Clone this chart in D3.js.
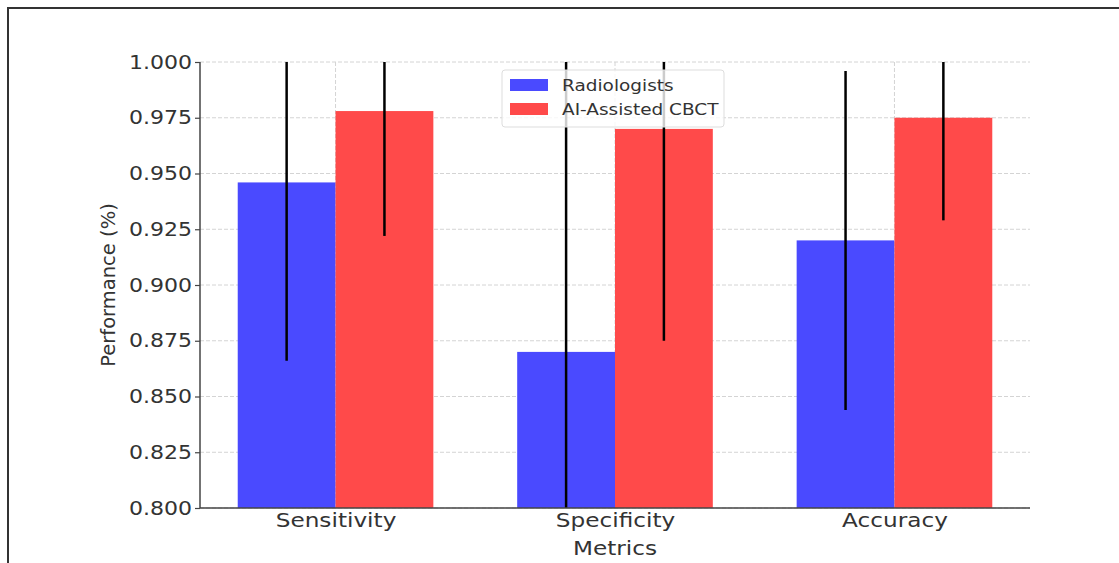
<!DOCTYPE html>
<html>
<head>
<meta charset="utf-8">
<script src="https://cdn.jsdelivr.net/npm/d3@7"></script>
<style>
  body { margin: 0; background: #fff; }
  text { font-family: "DejaVu Sans", sans-serif; fill: #333; }
</style>
</head>
<body>
<script>
// chart data
var metrics = ["Sensitivity", "Specificity", "Accuracy"];
var seriesNames = ["Radiologists", "AI-Assisted CBCT"];
var radiologists = [0.946, 0.870, 0.920];
var radiologistsErr = [0.080, 0.140, 0.076];
var aiCbct = [0.978, 0.970, 0.975];
var aiCbctErr = [0.056, 0.095, 0.046];
var yTicks = [0.800, 0.825, 0.850, 0.875, 0.900, 0.925, 0.950, 0.975, 1.000];

var colors = ["rgb(74,74,255)", "rgb(255,74,74)"];
var barWidth = 0.35;

var W = 1119, H = 563;
// plot area (window.top is read-only, so no "top" here)
var plotLeft = 200, plotRight = 1030, plotTop = 62, plotBottom = 508;
// the source picture looks a bit stretched sideways
var stretch = 1.16;

var svg = d3.select("body").append("svg")
  .attr("width", W)
  .attr("height", H);

// the outer frame (top and left edges only are visible)
svg.append("path")
  .attr("d", "M8,563 L8,8 L1119,8")
  .attr("fill", "none")
  .attr("stroke", "#333")
  .attr("stroke-width", 2);

var xScale = d3.scaleLinear()
  .domain([-0.35 - 0.135, 2.35 + 0.135])
  .range([plotLeft, plotRight]);

var yScale = d3.scaleLinear()
  .domain([0.8, 1.0])
  .range([plotBottom, plotTop]);

svg.append("clipPath").attr("id", "clip")
  .append("rect")
  .attr("x", plotLeft).attr("y", plotTop)
  .attr("width", plotRight - plotLeft).attr("height", plotBottom - plotTop);

// grid lines
var grid = svg.append("g");
grid.selectAll(".hgrid")
  .data(yTicks)
  .enter().append("line")
  .attr("x1", plotLeft).attr("x2", plotRight)
  .attr("y1", function(d) { return yScale(d); })
  .attr("y2", function(d) { return yScale(d); })
  .attr("stroke", "#d4d4d4")
  .attr("stroke-width", 1)
  .attr("stroke-dasharray", "4,2");

grid.selectAll(".vgrid")
  .data(metrics)
  .enter().append("line")
  .attr("x1", function(d, i) { return xScale(i); })
  .attr("x2", function(d, i) { return xScale(i); })
  .attr("y1", plotTop).attr("y2", plotBottom)
  .attr("stroke", "#d4d4d4")
  .attr("stroke-width", 1)
  .attr("stroke-dasharray", "4,2");

var series = [
  {vals: radiologists, errs: radiologistsErr, offset: -barWidth / 2},
  {vals: aiCbct, errs: aiCbctErr, offset: barWidth / 2}
];

var bars = svg.append("g").attr("clip-path", "url(#clip)");

series.forEach(function(s, k) {
  bars.selectAll(".bar" + k)
    .data(s.vals)
    .enter().append("rect")
    .attr("x", function(d, i) { return xScale(i + s.offset - barWidth / 2); })
    .attr("width", xScale(barWidth) - xScale(0))
    .attr("y", function(d) { return yScale(d); })
    .attr("height", function(d) { return plotBottom - yScale(d); })
    .attr("fill", colors[k]);
});

series.forEach(function(s, k) {
  bars.selectAll(".err" + k)
    .data(s.vals)
    .enter().append("line")
    .attr("x1", function(d, i) { return xScale(i + s.offset); })
    .attr("x2", function(d, i) { return xScale(i + s.offset); })
    .attr("y1", function(d, i) { return yScale(d + s.errs[i]); })
    .attr("y2", function(d, i) { return yScale(d - s.errs[i]); })
    .attr("stroke", "#000")
    .attr("stroke-width", 2.5);
});

// axes
var yAxis = d3.axisLeft(yScale)
  .tickValues(yTicks)
  .tickFormat(d3.format(".3f"))
  .tickSize(5)
  .tickPadding(6);

var gy = svg.append("g")
  .attr("transform", "translate(" + plotLeft + ",0)")
  .call(yAxis);
gy.select(".domain").attr("stroke", "#444").attr("stroke-width", 1.5)
  .attr("d", "M0," + plotBottom + "V" + plotTop);
gy.selectAll(".tick line").attr("stroke", "#444").attr("stroke-width", 1.2);
gy.selectAll(".tick text")
  .style("font-size", "19px")
  .attr("fill", "#333")
  .attr("x", -8 / stretch)
  .attr("transform", "scale(" + stretch + ",1)");

var xAxis = d3.axisBottom(xScale)
  .tickValues([0, 1, 2])
  .tickFormat(function(d) { return metrics[d]; })
  .tickSize(0)
  .tickPadding(6);

var gx = svg.append("g")
  .attr("transform", "translate(0," + plotBottom + ")")
  .call(xAxis);
gx.select(".domain").attr("stroke", "#444").attr("stroke-width", 1.5)
  .attr("d", "M" + plotLeft + ",0H" + plotRight);
gx.selectAll(".tick text")
  .style("font-size", "19px")
  .attr("fill", "#333")
  .attr("transform", "scale(1.22,1)");

// axis titles
svg.append("text")
  .attr("transform", "translate(" + xScale(1) + ",555) scale(1.22,1)")
  .attr("text-anchor", "middle")
  .style("font-size", "19px")
  .text("Metrics");

svg.append("text")
  .attr("transform", "translate(115," + ((plotTop + plotBottom) / 2) + ") rotate(-90)")
  .attr("text-anchor", "middle")
  .style("font-size", "19.5px")
  .text("Performance (%)");

// legend
var legend = svg.append("g").attr("transform", "translate(502,70)");
legend.append("rect")
  .attr("width", 222).attr("height", 57)
  .attr("rx", 3)
  .attr("fill", "rgba(255,255,255,0.8)")
  .attr("stroke", "#ddd");
seriesNames.forEach(function(name, k) {
  legend.append("rect")
    .attr("x", 8).attr("y", 9 + k * 24)
    .attr("width", 38).attr("height", 12)
    .attr("fill", colors[k]);
  legend.append("text")
    .attr("transform", "translate(60," + (21 + k * 24) + ") scale(1.12,1)")
    .style("font-size", "16.5px")
    .text(name);
});
</script>
</body>
</html>
